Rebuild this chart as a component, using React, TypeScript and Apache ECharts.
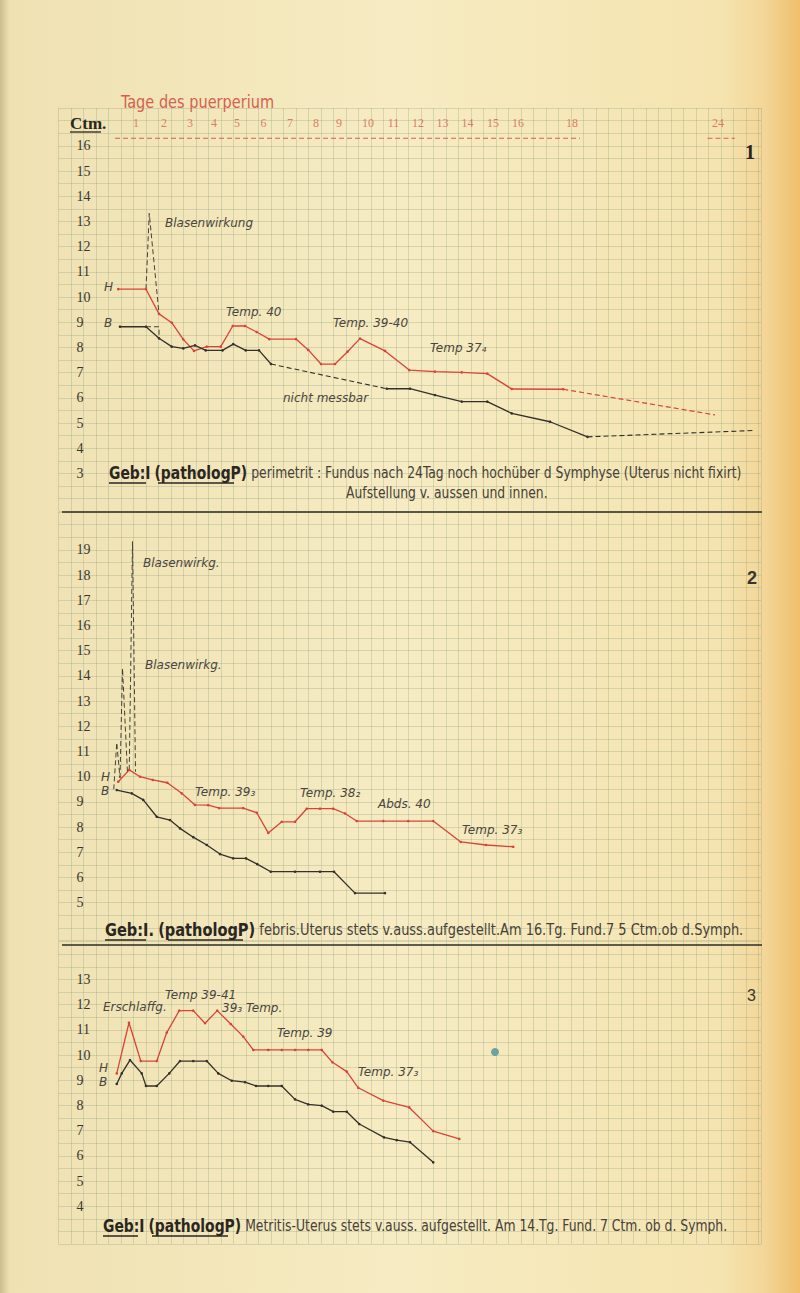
import React, { useEffect, useRef } from "react";
import * as echarts from "echarts";

// ---------- axis ticks ----------
const dayTickLabels = ["1","2","3","4","5","6","7","8","9","10","11","12","13","14","15","16","18","24"];
const dayTickPos = [1.64,2.76,3.8,4.76,5.68,6.74,7.8,8.84,9.76,10.92,11.94,12.92,13.9,14.9,15.92,16.92,19.08,24.92];
const p1YTicks = [3,4,5,6,7,8,9,10,11,12,13,14,15,16];
const p2YTicks = [5,6,7,8,9,10,11,12,13,14,15,16,17,18,19];
const p3YTicks = [4,5,6,7,8,9,10,11,12,13];

// ---------- panel 1 ----------
const p1H = [[0.93,10.31],[2.04,10.31],[2.56,9.33],[3.07,8.98],[3.53,8.32],[3.96,7.86],[4.47,8.03],[5.03,8.03],[5.51,8.85],[6.0,8.85],[6.47,8.61],[6.97,8.33],[8.04,8.33],[8.53,7.9],[9.04,7.34],[9.6,7.34],[10.1,7.83],[10.6,8.35],[11.6,7.86],[12.57,7.1],[13.6,7.04],[14.67,7.01],[15.69,6.96],[16.67,6.35],[18.73,6.34]];
const p1HDash = [[18.73,6.34],[24.8,5.32]];
const p1B = [[1.0,8.82],[2.04,8.82],[2.56,8.36],[3.07,8.03],[3.53,7.96],[4.0,8.08],[4.43,7.88],[5.1,7.88],[5.53,8.13],[6.03,7.88],[6.56,7.88],[7.04,7.34]];
const p1BDash = [[7.04,7.34],[11.67,6.36]];
const p1B2 = [[11.67,6.36],[12.6,6.36],[13.6,6.11],[14.67,5.85],[15.69,5.85],[16.67,5.38],[18.2,5.05],[19.7,4.45]];
const p1BDash2 = [[19.7,4.45],[26.3,4.7]];
const p1Spike = [[2.04,10.31],[2.17,13.32],[2.56,9.33]];
const p1Bracket = [[2.04,8.82],[2.56,8.82],[2.56,8.36]];

// ---------- panel 2 ----------
const p2H = [[0.93,9.8],[1.37,10.27],[1.8,10.0],[2.31,9.87],[2.89,9.76],[3.47,9.34],[4.0,8.88],[4.53,8.87],[4.97,8.75],[5.93,8.75],[6.47,8.57],[6.93,7.77],[7.47,8.21],[8.0,8.21],[8.47,8.73],[9.0,8.73],[9.53,8.73],[10.0,8.54],[10.47,8.24],[11.53,8.24],[12.53,8.24],[13.53,8.24],[14.63,7.41],[15.64,7.29],[16.73,7.22]];
const p2B = [[0.87,9.47],[1.47,9.34],[1.93,9.08],[2.47,8.41],[3.0,8.28],[3.4,7.95],[3.93,7.6],[4.47,7.29],[5.0,6.93],[5.53,6.76],[6.04,6.76],[6.49,6.53],[7.03,6.23],[8.0,6.23],[9.0,6.23],[9.56,6.23],[10.4,5.38],[11.6,5.38]];
const p2Spike1 = [[0.75,9.5],[0.87,11.35],[1.0,9.95]];
const p2Spike2 = [[1.0,9.95],[1.1,14.3],[1.3,10.15]];
const p2Spike3 = [[1.37,10.27],[1.5,19.33],[1.62,10.2]];

// ---------- panel 3 ----------
const p3H = [[0.87,9.27],[1.36,11.28],[1.83,9.76],[2.47,9.76],[2.87,10.89],[3.37,11.76],[3.93,11.76],[4.4,11.26],[4.89,11.76],[5.43,11.23],[5.93,10.73],[6.33,10.2],[6.93,10.2],[7.47,10.2],[8.0,10.2],[8.53,10.2],[9.07,10.2],[9.5,9.71],[10.07,9.34],[10.53,8.7],[11.53,8.19],[12.57,7.92],[13.53,6.98],[14.57,6.67]];
const p3B = [[0.87,8.85],[1.07,9.27],[1.4,9.8],[1.87,9.27],[2.04,8.77],[2.47,8.77],[2.97,9.27],[3.4,9.76],[3.93,9.76],[4.47,9.76],[4.93,9.27],[5.47,8.98],[6.0,8.92],[6.44,8.77],[6.93,8.77],[7.47,8.77],[8.0,8.24],[8.53,8.04],[9.07,7.99],[9.53,7.75],[10.07,7.75],[10.57,7.26],[11.56,6.73],[12.07,6.62],[12.6,6.54],[13.53,5.74]];

const headerRuleA = [[0.8,16.3],[19.4,16.3]];
const headerRuleB = [[24.5,16.3],[25.6,16.3]];

const RED = "#d8443a";
const BLK = "#34302b";
const GRIDC = "rgba(105,130,105,0.28)";
const HAND = "italic 12px 'DejaVu Sans', sans-serif";
const NARROW = "'DejaVu Sans Condensed', 'Liberation Sans', sans-serif";

function xAxis(i: number) {
  return {
    type: "value", gridIndex: i, min: -1.46, max: 26.64, interval: 0.5,
    axisLine: { show: false }, axisTick: { show: false }, axisLabel: { show: false },
    splitLine: { show: true, lineStyle: { color: GRIDC, width: 0.8 } },
  };
}
function yAxis(i: number, min: number, max: number, ticks: number[]) {
  return {
    type: "value", gridIndex: i, min, max, interval: 0.5,
    axisLine: { show: false }, axisTick: { show: false },
    axisLabel: {
      inside: true, margin: 18, align: "left", color: "#3a362f",
      fontFamily: "'Liberation Serif', serif", fontSize: 14,
      formatter: (v: number) => {
        const r = Math.round(v);
        return Math.abs(v - r) < 1e-6 && ticks.includes(r) ? String(r) : "";
      },
    },
    splitLine: { show: true, lineStyle: { color: GRIDC, width: 0.8 } },
  };
}
function line(i: number, data: number[][], color: string, dashed = false, width = 1.3, dots = true) {
  return {
    type: "line", xAxisIndex: i, yAxisIndex: i, data,
    symbol: dots ? "circle" : "none", symbolSize: 2.6, showSymbol: dots,
    itemStyle: { color },
    lineStyle: { color, width, type: dashed ? [5, 3] : "solid" },
    silent: true, z: 5,
  };
}
function hand(text: string, x: number, y: number) {
  return { type: "text", x, y, style: { text, font: HAND, fill: "#4a463f", textVerticalAlign: "middle" }, z: 10 };
}
function caption(text: string, x: number, y: number, sx: number) {
  return {
    type: "text", x, y, z: 10, scaleX: sx,
    style: {
      text, textVerticalAlign: "middle",
      font: "16px " + NARROW, fill: "#3d3932",
      rich: {
        b: { fontFamily: NARROW, fontWeight: "bold", fontSize: 18, fill: "#2a2621" },
        n: { fontFamily: NARROW, fontSize: 16, fill: "#45413a" },
      },
    },
  };
}
function uline(x1: number, x2: number, y: number) {
  return { type: "line", z: 10, shape: { x1, y1: y, x2, y2: y }, style: { stroke: "#2a2621", lineWidth: 1.3 } };
}

export default function App() {
  const ref = useRef<HTMLDivElement>(null);
  useEffect(() => {
    document.body.style.margin = "0";
    const chart = echarts.init(ref.current!, null, { renderer: "svg" });
    const option: any = {
      animation: false,
      backgroundColor: {
        type: "linear", x: 0, y: 0, x2: 1, y2: 0,
        colorStops: [
          { offset: 0, color: "#cdbd8e" },
          { offset: 0.012, color: "#efe1b2" },
          { offset: 0.5, color: "#f6ebc2" },
          { offset: 0.9, color: "#f5e4b0" },
          { offset: 0.955, color: "#f3d698" },
          { offset: 1, color: "#efbf6c" },
        ],
      },
      grid: [
        { left: 58.5, top: 108, width: 702.5, height: 403.2 },
        { left: 58.5, top: 512.1, width: 702.5, height: 428.4 },
        { left: 58.5, top: 941.6, width: 702.5, height: 302.4 },
      ],
      xAxis: [xAxis(0), xAxis(1), xAxis(2)],
      yAxis: [yAxis(0, 1.5, 17.5, p1YTicks), yAxis(1, 3.5, 20.5, p2YTicks), yAxis(2, 2.5, 14.5, p3YTicks)],
      series: [
        {
          type: "scatter", xAxisIndex: 0, yAxisIndex: 0, symbolSize: 0, silent: true,
          data: dayTickPos.map((p, i) => ({ value: [p, 16.92], name: dayTickLabels[i] })),
          label: { show: true, position: "inside", formatter: "{b}", color: "#d5604f", fontSize: 12, fontFamily: "'Liberation Serif', serif" },
        },
        line(0, headerRuleA, "#d5604f", true, 1.2, false),
        line(0, headerRuleB, "#d5604f", true, 1.2, false),
        line(0, p1H, RED),
        line(0, p1HDash, RED, true, 1.2, false),
        line(0, p1B, BLK),
        line(0, p1BDash, BLK, true, 1.1, false),
        line(0, p1B2, BLK),
        line(0, p1BDash2, BLK, true, 1.1, false),
        line(0, p1Spike, BLK, true, 0.9, false),
        line(0, p1Bracket, BLK, true, 0.9, false),
        line(1, p2H, RED),
        line(1, p2B, BLK),
        line(1, p2Spike1, BLK, true, 0.9, false),
        line(1, p2Spike2, BLK, true, 0.9, false),
        line(1, p2Spike3, BLK, true, 0.9, false),
        line(2, p3H, RED),
        line(2, p3B, BLK),
      ],
      graphic: [
        { type: "text", x: 121, y: 102, z: 10, scaleX: 0.95, style: { text: "Tage des puerperium", font: "17px " + NARROW, fill: "#d5604f", textVerticalAlign: "middle" } },
        { type: "text", x: 70, y: 123, z: 10, style: { text: "Ctm.", font: "bold 17px 'Liberation Serif', serif", fill: "#2a2621", textVerticalAlign: "middle" } },
        uline(70, 101, 132),
        { type: "text", x: 745, y: 152, z: 10, style: { text: "1", font: "bold 20px 'Liberation Serif', serif", fill: "#2a2621", textVerticalAlign: "middle" } },
        { type: "text", x: 747, y: 578, z: 10, style: { text: "2", font: "bold 18px 'Liberation Sans', sans-serif", fill: "#3a362f", textVerticalAlign: "middle" } },
        { type: "text", x: 747, y: 995, z: 10, style: { text: "3", font: "16px 'Liberation Sans', sans-serif", fill: "#3a362f", textVerticalAlign: "middle" } },
        // separators
        { type: "line", z: 10, shape: { x1: 62, y1: 512, x2: 762, y2: 512 }, style: { stroke: "#2f2b26", lineWidth: 1.4 } },
        { type: "line", z: 10, shape: { x1: 62, y1: 945, x2: 762, y2: 945 }, style: { stroke: "#2f2b26", lineWidth: 1.4 } },
        // panel 1 annotations
        hand("H", 104, 287), hand("B", 104, 323),
        hand("Blasenwirkung", 165, 223), hand("Temp. 40", 226, 312), hand("Temp. 39-40", 333, 323),
        hand("Temp 37₄", 430, 348), hand("nicht messbar", 283, 398),
        caption("{b|Geb:I} {b|(pathologP)} {n|perimetrit : Fundus nach 24Tag noch hochüber d Symphyse (Uterus nicht fixirt)}", 109, 473, 0.86),
        uline(109, 146, 483), uline(158, 234, 483),
        { type: "text", x: 346, y: 493, z: 10, scaleX: 0.86, style: { text: "Aufstellung v. aussen und innen.", font: "16px " + NARROW, fill: "#45413a", textVerticalAlign: "middle" } },
        // panel 2 annotations
        hand("H", 101, 777), hand("B", 101, 791),
        hand("Blasenwirkg.", 143, 563), hand("Blasenwirkg.", 145, 665),
        hand("Temp. 39₃", 195, 792), hand("Temp. 38₂", 300, 793), hand("Abds. 40", 378, 804), hand("Temp. 37₃", 462, 830),
        caption("{b|Geb:I.} {b|(pathologP)} {n|febris.Uterus stets v.auss.aufgestellt.Am 16.Tg. Fund.7 5 Ctm.ob d.Symph.}", 105, 930, 0.9),
        uline(105, 146, 940), uline(168, 243, 940),
        // panel 3 annotations
        hand("H", 99, 1068), hand("B", 99, 1082),
        hand("Erschlaffg.", 103, 1007), hand("Temp 39-41", 165, 995), hand("39₃ Temp.", 222, 1008),
        hand("Temp. 39", 277, 1033), hand("Temp. 37₃", 358, 1072),
        { type: "circle", z: 10, shape: { cx: 495, cy: 1052, r: 4 }, style: { fill: "#6aa3a0" } },
        caption("{b|Geb:I} {b|(pathologP)} {n|Metritis-Uterus stets v.auss. aufgestellt. Am 14.Tg. Fund. 7 Ctm. ob d. Symph.}", 103, 1226, 0.86),
        uline(103, 138, 1236), uline(152, 228, 1236),
      ],
    };
    chart.setOption(option);
    return () => chart.dispose();
  }, []);
  return <div ref={ref} style={{ width: 800, height: 1293 }} />;
}
